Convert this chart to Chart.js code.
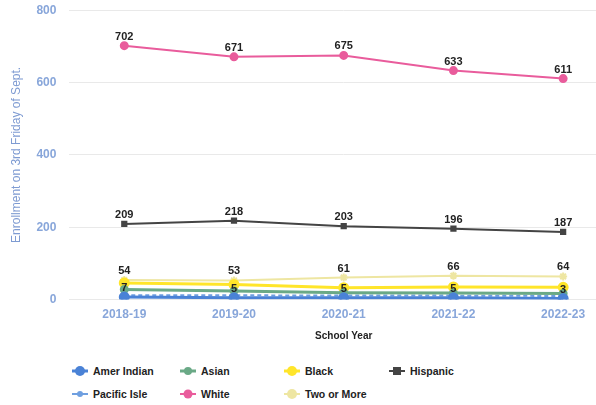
<!DOCTYPE html>
<html>
<head>
<meta charset="utf-8">
<script src="https://cdn.jsdelivr.net/npm/chart.js@4.4.1/dist/chart.umd.min.js"></script>
<style>
    body { margin: 0; background: #fff; overflow: hidden; width: 596px; height: 405px; position: relative; }
    #enrollment { position: absolute; left: 0; top: -10px; }
    #legend {
        position: absolute; left: 72px; top: 362px;
        display: grid; grid-template-columns: 108px 104px 105px 110px; row-gap: 6px;
        font: bold 10.5px "Liberation Sans", Arial, sans-serif; color: #222;
    }
    #legend .item { display: flex; align-items: center; height: 17px; }
    #legend .mark { position: relative; width: 16px; height: 10px; margin-right: 5px; }
    #legend .mark .ln { position: absolute; left: 0; right: 0; top: 50%; transform: translateY(-50%); }
    #legend .mark .pt { position: absolute; left: 50%; top: 50%; transform: translate(-50%, -50%); border-radius: 50%; }
</style>
</head>
<body>
<canvas id="enrollment" width="625" height="355"></canvas>
<div id="legend"></div>
<script>

const SchoolYears = ['2018-19', '2019-20', '2020-21', '2021-22', '2022-23'];
const YTicks = [0, 200, 400, 600, 800];

const AmerIndian = [7, 5, 5, 5, 3];
const Asian = [28, 24, 19, 18, 17];
const Black = [46, 42, 33, 35, 34];
const Hispanic = [209, 218, 203, 196, 187];
const PacificIsle = [12, 12, 11, 11, 10];
const White = [702, 671, 675, 633, 611];
const TwoOrMore = [54, 53, 61, 66, 64];

const TICK_BLUE = '#88a6da';


function series(label, data, color, extra) {
    return Object.assign({
        label: label,
        data: data,
        borderColor: color,
        backgroundColor: color,
        pointBackgroundColor: color,
        pointBorderColor: color,
        borderWidth: 2,
        pointRadius: 4,
        tension: 0,
        valueLabels: false
    }, extra || {});
}


// prints the numbers above the points of the series flagged with valueLabels
const valueLabelPlugin = {
    id: 'valueLabels',
    afterDatasetsDraw(chart) {
        const ctx = chart.ctx;
        ctx.save();
        ctx.font = 'bold 11px "Liberation Sans", Arial, sans-serif';
        ctx.fillStyle = '#222';
        ctx.textAlign = 'center';
        ctx.textBaseline = 'middle';
        chart.data.datasets.forEach(function (ds, i) {
            if (!ds.valueLabels) return;
            const meta = chart.getDatasetMeta(i);
            meta.data.forEach(function (pt, j) {
                ctx.fillText(String(ds.data[j]), pt.x, pt.y - 9);
            });
        });
        ctx.restore();
    }
};


function build_line_chart(ctx) {

    return new Chart(ctx, {
        type: 'line',
        data: {
            labels: SchoolYears,
            datasets: [
                series('Amer Indian', AmerIndian, '#4a82d6', { borderWidth: 3, valueLabels: true }),
                series('Asian', Asian, '#6aa986', { borderWidth: 3, pointRadius: 3 }),
                series('Black', Black, '#ffe52a', { borderWidth: 3 }),
                series('Hispanic', Hispanic, '#444444', { pointStyle: 'rect', pointRadius: 3, valueLabels: true }),
                series('Pacific Isle', PacificIsle, '#6f9fe0', { borderDash: [4, 3], pointRadius: 2 }),
                series('White', White, '#e95c9c', { pointRadius: 3.5, valueLabels: true }),
                series('Two or More', TwoOrMore, '#eee6a2', { pointStyle: 'star', pointRadius: 4, valueLabels: true })
            ]
        },
        plugins: [valueLabelPlugin],
        options: {
            responsive: false,
            animation: false,
            layout: {
                padding: { left: 0, right: 3, top: 10, bottom: 1 }
            },
            plugins: {
                legend: { display: false },
                tooltip: { enabled: false }
            },
            scales: {
                x: {
                    offset: true,
                    grid: { display: false },
                    border: { display: false },
                    ticks: {
                        color: TICK_BLUE,
                        padding: 0,
                        maxRotation: 0,
                        font: { family: '"Liberation Sans", Arial, sans-serif', size: 12, weight: 'bold' }
                    },
                    title: {
                        display: true,
                        text: 'School Year',
                        color: '#222',
                        padding: { top: 8, bottom: 2 },
                        font: { family: '"Liberation Sans", Arial, sans-serif', size: 10, weight: 'bold' }
                    }
                },
                y: {
                    min: 0,
                    max: 800,
                    afterBuildTicks: function (axis) {
                        axis.ticks = YTicks.map(function (v) { return { value: v }; });
                    },
                    grid: { color: '#e9e9e9', drawTicks: false },
                    border: { display: false },
                    ticks: {
                        color: TICK_BLUE,
                        padding: 13,
                        font: { family: '"Liberation Sans", Arial, sans-serif', size: 12, weight: 'bold' }
                    },
                    title: {
                        display: true,
                        text: 'Enrollment on 3rd Friday of Sept.',
                        color: '#7e9bd2',
                        padding: { top: 9, bottom: 0 },
                        font: { family: '"Liberation Sans", Arial, sans-serif', size: 12 }
                    }
                }
            }
        }
    });

}


// legend laid out as a 4 column grid under the chart
function build_legend(chart, box) {
    chart.data.datasets.forEach(function (ds) {
        const item = document.createElement('div');
        item.className = 'item';

        const mark = document.createElement('span');
        mark.className = 'mark';
        const ln = document.createElement('span');
        ln.className = 'ln';
        ln.style.height = ds.borderWidth + 'px';
        ln.style.background = ds.borderColor;
        const pt = document.createElement('span');
        pt.className = 'pt';
        const d = ds.pointRadius * 2 + 2;
        pt.style.width = d + 'px';
        pt.style.height = d + 'px';
        pt.style.background = ds.borderColor;
        if (ds.pointStyle === 'rect') pt.style.borderRadius = '0';
        mark.appendChild(ln);
        mark.appendChild(pt);

        const txt = document.createElement('span');
        txt.textContent = ds.label;

        item.appendChild(mark);
        item.appendChild(txt);
        box.appendChild(item);
    });
}


const chart = build_line_chart(document.getElementById('enrollment').getContext('2d'));
build_legend(chart, document.getElementById('legend'));

</script>
</body>
</html>
